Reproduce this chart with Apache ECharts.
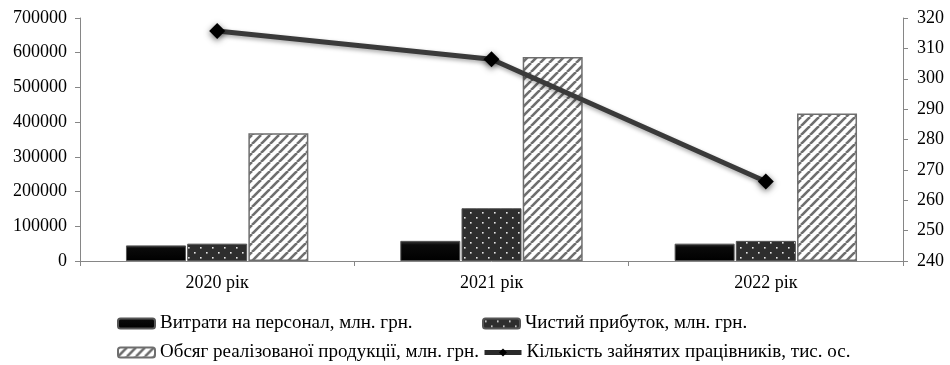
<!DOCTYPE html>
<html>
<head>
<meta charset="utf-8">
<script src="https://cdn.jsdelivr.net/npm/echarts@6/dist/echarts.min.js"></script>
<style>
  html, body { margin: 0; padding: 0; background: #fff; }
  #chart { width: 950px; height: 365px; }
</style>
</head>
<body>
<div id="chart"></div>
<script>
var categories = ['2020 рік', '2021 рік', '2022 рік'];
var staffCosts = [45000, 58000, 50000];
var netProfit = [50000, 152000, 58000];
var salesVolume = [368000, 588000, 425000];
var employees = [315.7, 306.4, 266.2];

var leftTicks = { min: 0, max: 700000, interval: 100000 };
var rightTicks = { min: 240, max: 320, interval: 10 };

var FONT = '"Liberation Serif", "Times New Roman", serif';

// diagonal hatch tile
function hatchPattern() {
	var c = document.createElement('canvas');
	c.width = 9; c.height = 9;
	var ctx = c.getContext('2d');
	ctx.fillStyle = '#ffffff';
	ctx.fillRect(0, 0, 9, 9);
	ctx.strokeStyle = '#6e6e6e';
	ctx.lineWidth = 2.6;
	for (var k = -9; k <= 9; k += 9) {
		ctx.beginPath();
		ctx.moveTo(k, 9);
		ctx.lineTo(k + 9, 0);
		ctx.stroke();
	}
	return c;
}

// dark fill with white dots
function dotPattern() {
	var c = document.createElement('canvas');
	c.width = 12; c.height = 10;
	var ctx = c.getContext('2d');
	ctx.fillStyle = '#2e2e2e';
	ctx.fillRect(0, 0, 12, 10);
	ctx.fillStyle = '#e8e8e8';
	ctx.fillRect(2, 2, 1.6, 1.6);
	ctx.fillRect(8, 7, 1.6, 1.6);
	return c;
}

var chart = echarts.init(document.getElementById('chart'));

var legendBase = {
	padding: 0,
	itemWidth: 37,
	itemHeight: 10,
	textStyle: { fontFamily: FONT, fontSize: 19, color: '#000' }
};

function legendAt(item, left, top) {
	return Object.assign({}, legendBase, { data: [item], left: left, top: top });
}

var names = [
	'Витрати на персонал, млн. грн.',
	'Чистий прибуток, млн. грн.',
	'Обсяг реалізованої продукції, млн. грн.',
	'Кількість зайнятих працівників, тис. ос.'
];

chart.setOption({
	animation: false,
	backgroundColor: '#fff',
	grid: { left: 80, right: 47, top: 18, bottom: 104 },
	legend: [
		legendAt(names[0], 117, 314),
		legendAt(names[1], 482, 314),
		legendAt(names[2], 117, 343),
		legendAt({ name: names[3], lineStyle: { width: 5, color: '#2a2a2a' } }, 482, 343)
	],
	xAxis: {
		type: 'category',
		data: categories,
		axisLine: { lineStyle: { color: '#868686', width: 1 } },
		axisTick: { show: true, length: 5, lineStyle: { color: '#868686' } },
		axisLabel: { fontFamily: FONT, fontSize: 18, color: '#000', margin: 13 }
	},
	yAxis: [{
		type: 'value',
		min: leftTicks.min, max: leftTicks.max, interval: leftTicks.interval,
		splitLine: { show: false },
		axisLine: { show: true, lineStyle: { color: '#868686' } },
		axisTick: { show: true, length: 5, lineStyle: { color: '#868686' } },
		axisLabel: { fontFamily: FONT, fontSize: 18, color: '#000', margin: 13,
			formatter: function(v) { return String(v); } }
	}, {
		type: 'value',
		min: rightTicks.min, max: rightTicks.max, interval: rightTicks.interval,
		splitLine: { show: false },
		axisLine: { show: true, lineStyle: { color: '#868686' } },
		axisTick: { show: true, length: 5, lineStyle: { color: '#868686' } },
		axisLabel: { fontFamily: FONT, fontSize: 18, color: '#000', margin: 14 }
	}],
	series: [{
		name: names[0],
		type: 'bar',
		data: staffCosts,
		barWidth: 60,
		barGap: '2%',
		itemStyle: {
			color: new echarts.graphic.LinearGradient(0, 0, 0, 1, [
				{ offset: 0, color: '#3a3a3a' },
				{ offset: 0.2, color: '#0a0a0a' },
				{ offset: 1, color: '#000' }
			]),
			borderColor: '#555',
			borderWidth: 1
		}
	}, {
		name: names[1],
		type: 'bar',
		data: netProfit,
		barWidth: 60,
		barGap: '2%',
		itemStyle: {
			color: { image: dotPattern(), repeat: 'repeat' },
			borderColor: '#555',
			borderWidth: 1
		}
	}, {
		name: names[2],
		type: 'bar',
		data: salesVolume,
		barWidth: 60,
		barGap: '2%',
		itemStyle: {
			color: { image: hatchPattern(), repeat: 'repeat' },
			borderColor: '#6e6e6e',
			borderWidth: 1.5
		}
	}, {
		name: names[3],
		type: 'line',
		yAxisIndex: 1,
		data: employees,
		symbol: 'diamond',
		symbolSize: 16,
		lineStyle: {
			color: '#3a3a3a',
			width: 5,
			shadowColor: 'rgba(0,0,0,0.35)',
			shadowBlur: 4,
			shadowOffsetY: 2
		},
		itemStyle: {
			color: '#000',
			shadowColor: 'rgba(0,0,0,0.6)',
			shadowBlur: 6,
			shadowOffsetY: 2
		},
		z: 5
	}]
});
</script>
</body>
</html>
